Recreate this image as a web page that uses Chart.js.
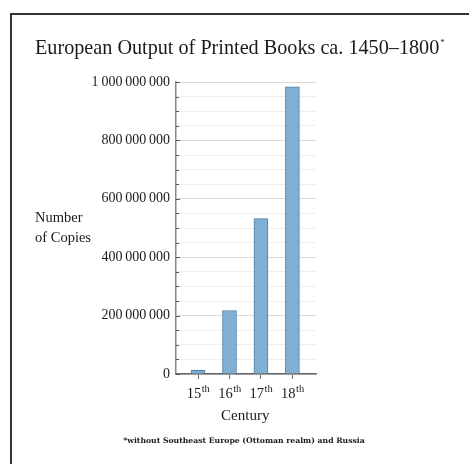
<!DOCTYPE html>
<html>
<head>
<meta charset="utf-8">
<script src="https://cdn.jsdelivr.net/npm/chart.js@4"></script>
<style>
    html, body { margin: 0; padding: 0; background: #fff; }
    #wrap { position: relative; width: 469px; height: 464px; overflow: hidden; }
    #frame { position: absolute; left: 10px; top: 13px; width: 500px; height: 500px; border: 2px solid #333; box-sizing: border-box; }
    canvas { position: absolute; left: 0; top: 0; }
</style>
</head>
<body>
<div id="wrap">
    <div id="frame"></div>
    <canvas id="books-chart" width="469" height="464"></canvas>
</div>
<script>
// Data (copies printed per century)
const centuries = ['15', '16', '17', '18'];
const copies = [12589000, 217444000, 531941000, 983874000];
const yTickLabels = ['0', '200\u2009000\u2009000', '400\u2009000\u2009000', '600\u2009000\u2009000', '800\u2009000\u2009000', '1\u2009000\u2009000\u2009000'];

const SERIF = '"Liberation Serif", "DejaVu Serif", serif';
const INK = '#1a1a1a';

// Extra text + inner tick marks, drawn on top of the chart
const decorations = {
    id: 'decorations',
    afterDraw(chart) {
        const ctx = chart.ctx;
        const x = chart.scales.x;
        const y = chart.scales.y;
        ctx.save();
        ctx.fillStyle = INK;
        ctx.textBaseline = 'alphabetic';

        // title
        ctx.font = '20.2px ' + SERIF;
        ctx.textAlign = 'left';
        const title = 'European Output of Printed Books ca. 1450\u20131800';
        ctx.fillText(title, 35, 54);
        const tw = ctx.measureText(title).width;
        ctx.font = '9px ' + SERIF;
        ctx.fillText('*', 35 + tw + 1, 45);

        // y label
        ctx.font = '14.5px ' + SERIF;
        ctx.fillText('Number', 35, 222);
        ctx.fillText('of Copies', 35, 242);

        // inner minor/major tick marks on y axis
        ctx.strokeStyle = '#555';
        ctx.lineWidth = 1;
        y.ticks.forEach(t => {
            const py = Math.round(y.getPixelForValue(t.value)) + 0.5;
            const len = t.value % 200000000 === 0 ? 4 : 3;
            ctx.beginPath();
            ctx.moveTo(x.left, py);
            ctx.lineTo(x.left + len, py);
            ctx.stroke();
        });

        // x tick labels with superscript
        centuries.forEach((c, i) => {
            const px = x.getPixelForValue(i + 1);
            ctx.font = '14.5px ' + SERIF;
            const w1 = ctx.measureText(c).width;
            ctx.font = '10.5px ' + SERIF;
            const w2 = ctx.measureText('th').width;
            const left = px - (w1 + w2) / 2;
            ctx.font = '14.5px ' + SERIF;
            ctx.fillText(c, left, 398);
            ctx.font = '10.5px ' + SERIF;
            ctx.fillText('th', left + w1 + 0.5, 392);
        });

        // x axis title
        ctx.font = '15px ' + SERIF;
        ctx.textAlign = 'center';
        ctx.fillText('Century', x.getPixelForValue(2.5), 420);

        // footnote
        ctx.font = 'bold 7.7px "DejaVu Serif", serif';
        ctx.fillText('*without Southeast Europe (Ottoman realm) and Russia', 244, 443);
        ctx.restore();
    }
};

const ctx = document.getElementById('books-chart').getContext('2d');
new Chart(ctx, {
    type: 'bar',
    data: {
        datasets: [{
            data: copies.map((v, i) => ({ x: i + 1, y: v })),
            backgroundColor: '#80b1d4',
            borderColor: '#4d7fa6',
            borderWidth: 1,
            barThickness: 14
        }]
    },
    options: {
        responsive: false,
        animation: false,
        layout: { padding: { left: 0, top: 82, right: 153, bottom: 0 } },
        plugins: {
            legend: { display: false },
            tooltip: { enabled: false }
        },
        scales: {
            x: {
                type: 'linear',
                offset: false,
                min: 0.3,
                max: 4.75,
                afterBuildTicks: s => { s.ticks = centuries.map((c, i) => ({ value: i + 1 })); },
                afterFit: s => { s.height = 90; },
                ticks: { display: false },
                grid: { offset: false, drawOnChartArea: false, drawTicks: true, tickLength: 5, color: '#666', lineWidth: 1 },
                border: { color: '#666', width: 1.5 }
            },
            y: {
                min: 0,
                max: 1000000000,
                afterFit: s => { s.width = 176; },
                ticks: {
                    stepSize: 50000000,
                    autoSkip: false,
                    padding: 6,
                    color: INK,
                    font: { family: SERIF, size: 14 },
                    callback: v => v % 200000000 === 0 ? yTickLabels[v / 200000000] : ''
                },
                grid: {
                    drawTicks: false,
                    color: c => c.tick && c.tick.value % 200000000 === 0 ? '#d9d9d9' : '#eeeeee',
                    lineWidth: 1
                },
                border: { color: '#888', width: 1.5 }
            }
        }
    },
    plugins: [decorations]
});
</script>
</body>
</html>
